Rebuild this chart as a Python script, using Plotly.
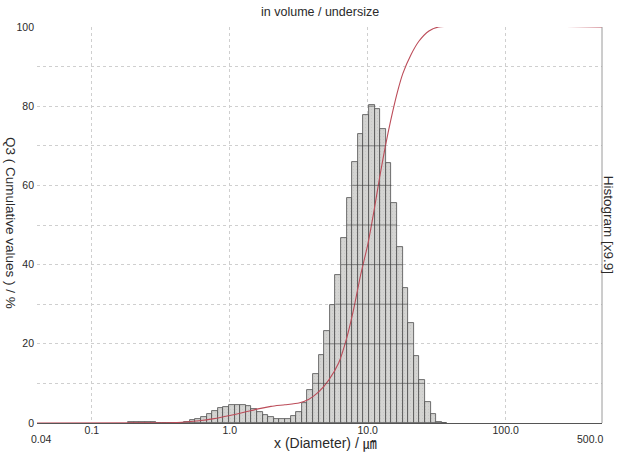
import numpy as np
import plotly.graph_objects as go

# ---- data -------------------------------------------------------------
# Volume histogram (q3 per channel, scaled x9.9), channels in geometric steps
CHANNEL_START_UM = 0.1835       # lower edge of the first listed channel
CHANNEL_RATIO = 1.098           # size ratio between neighbouring channels
hist_q3 = [
    0.25, 0.3, 0.3, 0.25, 0.2, 0.1, 0.08, 0.08, 0.1, 0.12,
    0.17, 0.76, 1.0, 1.6, 2.3, 3.1, 3.7, 4.1, 4.5, 4.6,
    4.5, 4.2, 3.6, 2.9, 1.9, 1.4, 1.1, 1.0, 1.1, 1.8,
    2.9, 5.0, 8.3, 12.4, 17.2, 23.2, 29.8, 37.5, 46.8, 56.9,
    65.8, 73.0, 77.8, 80.3, 79.2, 74.2, 65.7, 55.6, 44.5, 34.2,
    25.2, 16.9, 10.9, 5.4, 2.4, 0.3, 0.1,
]

# Cumulative undersize curve Q3 (%)
cum_diam_um = [0.04, 0.26, 0.45, 0.60, 0.77, 1.0, 1.27, 1.57, 1.99, 2.51,
               3.17, 3.75, 4.43, 5.23, 6.18, 7.05, 7.94, 8.9, 10.0, 11.1,
               12.2, 13.5, 14.7, 16.4, 18.0, 20.6, 23.5, 27.8, 32.7, 500.0]
cum_pct = [0.0, 0.03, 0.2, 0.55, 1.1, 1.9, 2.7, 3.5, 4.2, 4.6,
           5.05, 6.0, 7.9, 10.9, 15.3, 21.5, 29.0, 37.5, 45.0, 53.5,
           62.0, 70.3, 76.5, 83.5, 88.3, 93.0, 96.4, 99.0, 100.0, 100.0]

x_tick_vals = [0.04, 0.1, 1.0, 10.0, 100.0, 500.0]
x_tick_text = ["", "0.1", "1.0", "10.0", "100.0", ""]
y_tick_vals = list(range(0, 101, 10))
y_tick_text = [str(v) if v % 20 == 0 else "" for v in y_tick_vals]

X_MIN, X_MAX = 0.04, 500.0

# ---- derived channel geometry (log10 space) ----------------------------
hist = np.array(hist_q3)
n = len(hist)
step = np.log10(CHANNEL_RATIO)
lower = np.log10(CHANNEL_START_UM) + step * np.arange(n)
centers = lower + step / 2
upper = lower + step

FONT = "Liberation Sans, Arial, Noto Sans CJK JP, sans-serif"
TXT = "#2a2a2a"

fig = go.Figure()

# histogram bars on a linear axis in log10 units
fig.add_trace(go.Bar(
    x=centers, y=hist, width=step, xaxis="x", yaxis="y",
    marker=dict(
        color="#d4d4d2",
        line=dict(color="#4d4d4d", width=0.8),
        pattern=dict(shape=".", size=3, solidity=0.08,
                     fgcolor="#a8a8a8", fillmode="overlay"),
    ),
    hoverinfo="skip", showlegend=False,
))

# cumulative curve on the overlaid log axis
fig.add_trace(go.Scatter(
    x=cum_diam_um, y=cum_pct, xaxis="x2", yaxis="y",
    mode="lines", line=dict(color="#bc4c59", width=1.1,
                            shape="spline", smoothing=0.6),
    hoverinfo="skip", showlegend=False,
))

# horizontal grid lines seen through the bars
shapes = []
for v in range(10, 101, 10):
    idx = np.where(hist >= v)[0]
    if idx.size == 0:
        continue
    shapes.append(dict(
        type="line", xref="x", yref="y",
        x0=lower[idx.min()], x1=upper[idx.max()], y0=v, y1=v,
        line=dict(color="rgba(70,70,70,0.75)", width=0.8), layer="above",
    ))
# right frame edge
shapes.append(dict(type="line", xref="paper", yref="paper",
                   x0=1, x1=1, y0=0, y1=1,
                   line=dict(color="#9a9a9a", width=1)))

annotations = [
    dict(text="in volume / undersize", xref="paper", yref="paper",
         x=0.5, y=1, yshift=15, yanchor="middle", xanchor="center",
         showarrow=False, font=dict(family=FONT, size=12.5, color=TXT)),
    dict(text="x (Diameter) / ㎛", xref="paper", yref="paper",
         x=0.5, y=0, yshift=-20, xshift=6, xanchor="center", yanchor="middle",
         showarrow=False, font=dict(family=FONT, size=14, color=TXT)),
    dict(text="Q3 ( Cumulative values ) / %", xref="paper", yref="paper",
         x=-0.046, y=0.505, textangle=90, xanchor="center", yanchor="middle",
         showarrow=False, font=dict(family=FONT, size=13.5, color=TXT)),
    dict(text="Histogram [x9.9]", xref="paper", yref="paper",
         x=1.013, y=0.5, textangle=90, xanchor="center", yanchor="middle",
         showarrow=False, font=dict(family=FONT, size=13.5, color=TXT)),
    dict(text="0.04", xref="x2", yref="paper",
         x=np.log10(X_MIN), y=0, xshift=4, yshift=-16, yanchor="middle",
         showarrow=False, font=dict(family=FONT, size=10.5, color=TXT)),
    dict(text="500.0", xref="x2", yref="paper",
         x=np.log10(X_MAX), y=0, xshift=-12, yshift=-16, yanchor="middle",
         showarrow=False, font=dict(family=FONT, size=10.5, color=TXT)),
]

fig.update_layout(
    width=619, height=453,
    margin=dict(l=37, r=17, t=27, b=30),
    paper_bgcolor="white", plot_bgcolor="white",
    bargap=0,
    xaxis=dict(
        range=[np.log10(X_MIN), np.log10(X_MAX)],
        visible=False, showgrid=False, zeroline=False,
    ),
    xaxis2=dict(
        type="log", overlaying="x", anchor="y", side="bottom",
        range=[np.log10(X_MIN), np.log10(X_MAX)],
        tickmode="array", tickvals=x_tick_vals, ticktext=x_tick_text,
        ticks="", showgrid=True, gridcolor="#cfcfcf", griddash="dot",
        gridwidth=1, zeroline=False, ticklabelstandoff=-3,
        showline=True, linecolor="#555555", linewidth=1,
        tickfont=dict(family=FONT, size=10.5, color=TXT),
    ),
    yaxis=dict(
        range=[0, 100], tickmode="array",
        tickvals=y_tick_vals, ticktext=y_tick_text,
        ticks="", showgrid=True, gridcolor="#cfcfcf", griddash="dot",
        zeroline=False, ticklabelstandoff=2,
        tickfont=dict(family=FONT, size=10.5, color=TXT),
    ),
    shapes=shapes,
    annotations=annotations,
)

fig.write_html("out.html")
